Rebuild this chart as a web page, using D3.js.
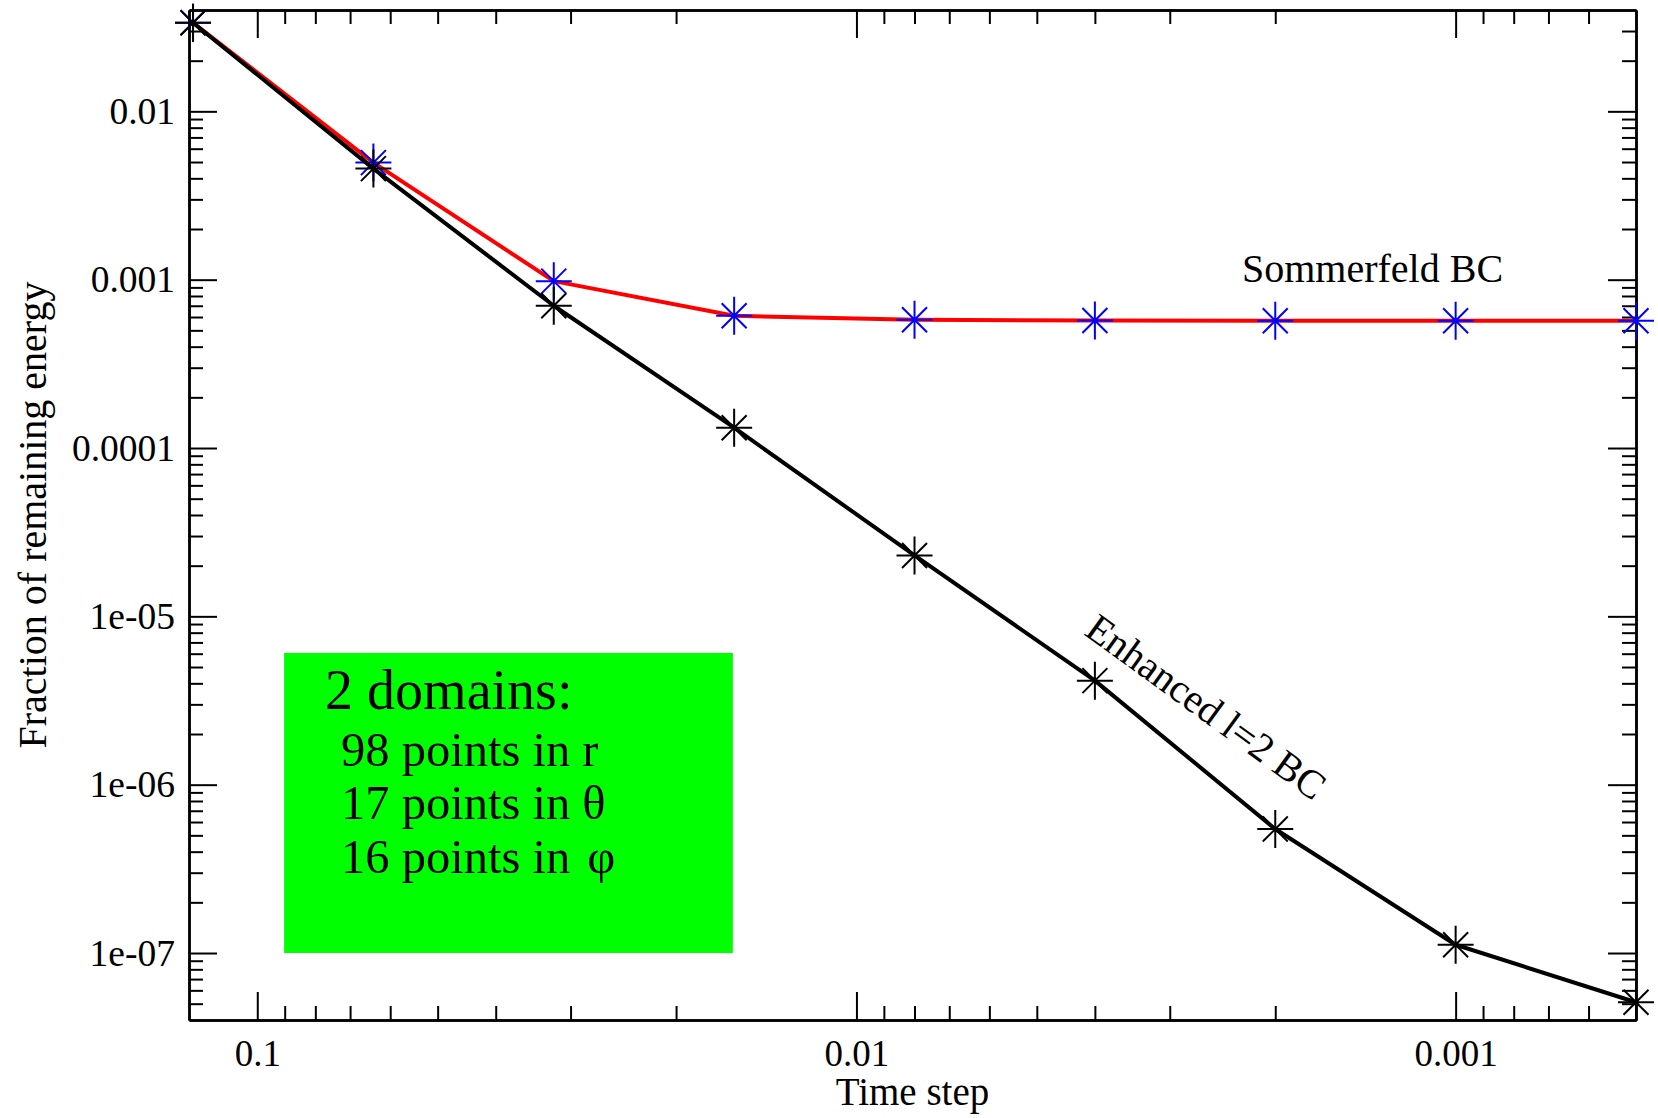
<!DOCTYPE html>
<html>
<head>
<meta charset="utf-8">
<script src="https://cdn.jsdelivr.net/npm/d3@7"></script>
<style>
  html, body { margin: 0; padding: 0; background: #fff; }
  svg { display: block; }
  text { font-family: "Liberation Serif", "Times New Roman", serif; fill: #000; }
</style>
</head>
<body>
<svg id="chart" width="1658" height="1118"></svg>
<script>
// ---- data ----
const timeSteps = [0.128, 0.064, 0.032, 0.016, 0.008, 0.004, 0.002, 0.001, 0.0005];
const enhancedBC = [0.0336, 0.00457, 7.0e-4, 1.32e-4, 2.3e-5, 4.15e-6, 5.45e-7, 1.12e-7, 5.1e-8];
const sommerfeldBC = [0.0336, 0.00496, 9.8e-4, 6.1e-4, 5.78e-4, 5.72e-4, 5.7e-4, 5.7e-4, 5.7e-4];
const xTickValues = [0.1, 0.01, 0.001];
const xTickLabels = ["0.1", "0.01", "0.001"];
const yTickValues = [0.01, 0.001, 0.0001, 1e-5, 1e-6, 1e-7];
const yTickLabels = ["0.01", "0.001", "0.0001", "1e-05", "1e-06", "1e-07"];
const xDomain = [0.13, 0.0005];
const yDomain = [0.04, 4e-8];
const boxX = [0.0902, 0.01608];
const boxY = [6.06e-6, 1.0e-7];
const boxTitle = "2 domains:";
const boxLines = [["98 points in ", "r"], ["17 points in ", "\u03B8"], ["16 points in ", "\u03C6"]];
const labelSommerfeld = "Sommerfeld BC";
const labelEnhanced = "Enhanced l=2 BC";
const xTitle = "Time step";
const yTitle = "Fraction of remaining energy";

// ---- layout ----
const L = 189, R = 1636, T = 10, B = 1020;
const svg = d3.select("#chart");

const x = d3.scaleLog().domain(xDomain).range([L, R]);
const y = d3.scaleLog().domain(yDomain).range([T, B]);

function minorTicks(scale) {
  const [a, b] = d3.extent(scale.domain());
  const out = [];
  const e0 = Math.floor(Math.log10(a)), e1 = Math.ceil(Math.log10(b));
  for (let e = e0; e <= e1; e++) {
    for (let k = 2; k <= 9; k++) {
      const v = k * Math.pow(10, e);
      if (v > a * 1.0001 && v < b * 0.9999) out.push(v);
    }
  }
  return out;
}
const xMinor = minorTicks(x);
const yMinor = minorTicks(y);

// green annotation box
svg.append("rect")
  .attr("x", x(boxX[0])).attr("y", y(boxY[0]))
  .attr("width", x(boxX[1]) - x(boxX[0]))
  .attr("height", y(boxY[1]) - y(boxY[0]))
  .attr("fill", "#00ff00");

const bx = x(boxX[0]), by = y(boxY[0]);
svg.append("text").attr("x", bx + 41).attr("y", by + 56)
  .attr("font-size", 56).text(boxTitle);
const symDx = [0, 0, 5];
boxLines.forEach((ln, j) => {
  const t = svg.append("text").attr("x", bx + 57).attr("y", by + 113 + j * 53.5)
    .attr("font-size", 48.5);
  t.append("tspan").text(ln[0]);
  t.append("tspan").attr("dx", symDx[j]).text(ln[1]);
});

// axes
const majorLen = 28, minorLen = 14;
const fmtX = v => xTickLabels[xTickValues.indexOf(v)];
const fmtY = v => yTickLabels[yTickValues.findIndex(t => Math.abs(t - v) / t < 1e-6)];

function styleAxis(g) {
  g.selectAll("path.domain").attr("stroke", "#000").attr("stroke-width", 2.5);
  g.selectAll(".tick line").attr("stroke", "#000").attr("stroke-width", 2);
}

// bottom
svg.append("g").attr("transform", `translate(0,${B})`)
  .call(d3.axisBottom(x).tickValues(xMinor).tickSizeInner(-minorLen).tickSizeOuter(0).tickFormat(""))
  .call(styleAxis);
const gb = svg.append("g").attr("transform", `translate(0,${B})`)
  .call(d3.axisBottom(x).tickValues(xTickValues).tickSizeInner(-majorLen).tickSizeOuter(0).tickPadding(20).tickFormat(fmtX))
  .call(styleAxis);
gb.selectAll("text").attr("font-size", 37).attr("font-family", "Liberation Serif, Times New Roman, serif").attr("fill", "#000");

// top
svg.append("g").attr("transform", `translate(0,${T})`)
  .call(d3.axisTop(x).tickValues(xMinor).tickSizeInner(-minorLen).tickSizeOuter(0).tickFormat(""))
  .call(styleAxis);
svg.append("g").attr("transform", `translate(0,${T})`)
  .call(d3.axisTop(x).tickValues(xTickValues).tickSizeInner(-majorLen).tickSizeOuter(0).tickFormat(""))
  .call(styleAxis);

// left
svg.append("g").attr("transform", `translate(${L},0)`)
  .call(d3.axisLeft(y).tickValues(yMinor).tickSizeInner(-minorLen).tickSizeOuter(0).tickFormat(""))
  .call(styleAxis);
const gl = svg.append("g").attr("transform", `translate(${L},0)`)
  .call(d3.axisLeft(y).tickValues(yTickValues).tickSizeInner(-majorLen).tickSizeOuter(0).tickPadding(14).tickFormat(fmtY))
  .call(styleAxis);
gl.selectAll("text").attr("font-size", 37.5).attr("font-family", "Liberation Serif, Times New Roman, serif").attr("fill", "#000");

// right
svg.append("g").attr("transform", `translate(${R},0)`)
  .call(d3.axisRight(y).tickValues(yMinor).tickSizeInner(-minorLen).tickSizeOuter(0).tickFormat(""))
  .call(styleAxis);
svg.append("g").attr("transform", `translate(${R},0)`)
  .call(d3.axisRight(y).tickValues(yTickValues).tickSizeInner(-majorLen).tickSizeOuter(0).tickFormat(""))
  .call(styleAxis);

// titles
svg.append("text").attr("x", (L + R) / 2).attr("y", 1105)
  .attr("text-anchor", "middle").attr("font-size", 39).text(xTitle);
svg.append("text").attr("transform", `translate(46,${(T + B) / 2}) rotate(-90)`)
  .attr("text-anchor", "middle").attr("font-size", 40).text(yTitle);

// series
const starPath = "M-18,0H18M0,-19V19M-12.5,-12.5L12.5,12.5M-12.5,12.5L12.5,-12.5";
const line = d3.line().x(d => x(d[0])).y(d => y(d[1]));

function drawSeries(vals, lineColor, symColor) {
  const pts = timeSteps.map((t, i) => [t, vals[i]]);
  svg.append("path").datum(pts).attr("d", line)
    .attr("fill", "none").attr("stroke", lineColor).attr("stroke-width", 4)
    .attr("stroke-linejoin", "round");
  svg.append("g").selectAll("path").data(pts).join("path")
    .attr("transform", d => `translate(${x(d[0])},${y(d[1])})`)
    .attr("d", starPath).attr("fill", "none")
    .attr("stroke", symColor).attr("stroke-width", 2);
}
drawSeries(sommerfeldBC, "#ff0000", "#0000ff");
drawSeries(enhancedBC, "#000000", "#000000");

// annotations
svg.append("text").attr("x", 1242).attr("y", 282).attr("font-size", 40).text(labelSommerfeld);
svg.append("text").attr("transform", "translate(1083,634) rotate(36)")
  .attr("font-size", 40).text(labelEnhanced);
</script>
</body>
</html>
